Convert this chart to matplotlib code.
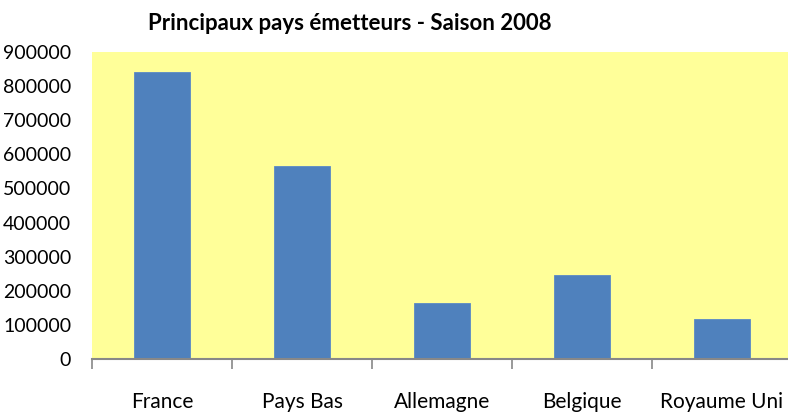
import numpy as np
import matplotlib.pyplot as plt

# Data
pays = ['France', 'Pays Bas', 'Allemagne', 'Belgique', 'Royaume Uni']
visiteurs = [841000, 566000, 164000, 246000, 117000]
y_ticks = [0, 100000, 200000, 300000, 400000, 500000, 600000, 700000, 800000, 900000]

plt.rcParams['font.family'] = ['Lato', 'DejaVu Sans']

fig = plt.figure(figsize=(7.88, 4.15), dpi=100)
ax = fig.add_axes([92 / 788, (415 - 359) / 415, 700 / 788, 307 / 415])
ax.set_facecolor('#FFFF99')

x = np.arange(len(pays))
ax.bar(x, visiteurs, width=0.4, color='#4F81BD', edgecolor='#5A8AC6', linewidth=0.6)

ax.set_xlim(-0.5, len(pays) - 0.5)
ax.set_ylim(0, 900000)

ax.set_yticks(y_ticks)
ax.set_yticklabels([str(v) for v in y_ticks], fontsize=14)
ax.tick_params(axis='y', length=0, pad=15)

# category labels between boundary ticks
ax.set_xticks(np.arange(-0.5, len(pays)), minor=False)
ax.set_xticklabels([''] * (len(pays) + 1))
ax.tick_params(axis='x', length=7, color='#888888', width=1.2)
ax.set_xticks(x, minor=True)
ax.set_xticklabels(pays, minor=True, fontsize=15)
ax.tick_params(axis='x', which='minor', length=0, pad=24)

for s in ['top', 'right', 'left']:
    ax.spines[s].set_visible(False)
ax.spines['bottom'].set_color('#888888')
ax.spines['bottom'].set_linewidth(1.5)

fig.text(350 / 788, 1 - 24 / 415, 'Principaux pays émetteurs - Saison 2008',
         ha='center', va='center', fontsize=16, fontweight='bold')

fig.savefig('out.png', dpi=100)
